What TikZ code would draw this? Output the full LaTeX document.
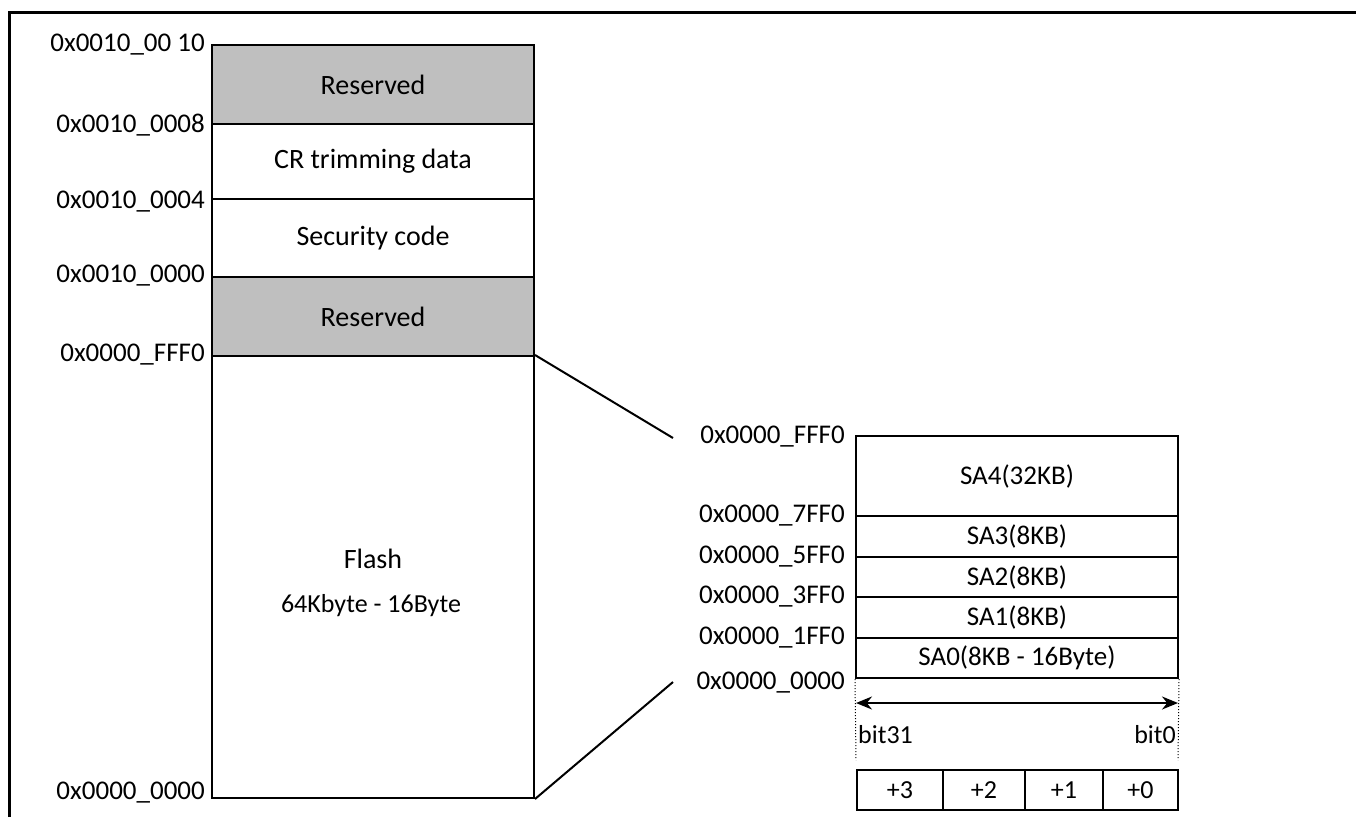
\documentclass[tikz,border=0pt]{standalone}
\usepackage{fontspec}
\setmainfont{Carlito}
\usetikzlibrary{arrows.meta}

\begin{document}
\begin{tikzpicture}[x=1pt,y=-1pt]
	\tikzstyle{cell}=[draw,line width=2pt,minimum width=322pt,inner sep=0pt,font=\fontsize{28}{30}\selectfont]
	\tikzstyle{rsv}=[cell,fill=gray!50]
	\tikzstyle{sector}=[cell,font=\fontsize{27}{30}\selectfont]
	\tikzstyle{addr}=[anchor=east,inner sep=0pt,font=\fontsize{27}{30}\selectfont]
	\tikzstyle{byte}=[draw,line width=2pt,minimum height=40pt,inner sep=0pt,font=\fontsize{26}{28}\selectfont]
	\useasboundingbox (0,0) rectangle (1356,817);
	\draw[line width=3pt] (9,817) -- (9,12) -- (1356,12);
	% whole map
	\node[rsv,minimum height=79pt] (rsvtop) at (373,84.5) {Reserved};
	\node[cell,minimum height=75pt] (crtrim) at (373,161.5) {CR trimming data};
	\node[cell,minimum height=78pt] (seccode) at (373,238) {Security code};
	\node[rsv,minimum height=79pt] (rsvbot) at (373,316.5) {Reserved};
	\node[cell,minimum height=442pt] (flash) at (373,577) {};
	\node[anchor=base,inner sep=0pt,font=\fontsize{28}{30}\selectfont] (flashname) at (373,568) {Flash};
	\node[anchor=base,inner sep=0pt,font=\fontsize{26}{28}\selectfont] (flashsize) at (371,612) {64Kbyte - 16Byte};
	\node[addr] (a5) at (205,45) {0x0010\_00 10};
	\node[addr] (a4) at (205,125) {0x0010\_0008};
	\node[addr] (a3) at (205,202) {0x0010\_0004};
	\node[addr] (a2) at (205,276) {0x0010\_0000};
	\node[addr] (a1) at (205,355) {0x0000\_FFF0};
	\node[addr] (a0) at (205,793) {0x0000\_0000};
	% flash sectors
	\node[sector,minimum height=80pt] (sa4) at (1017,476) {SA4(32KB)};
	\node[sector,minimum height=41pt] (sa3) at (1017,536.5) {SA3(8KB)};
	\node[sector,minimum height=40pt] (sa2) at (1017,577) {SA2(8KB)};
	\node[sector,minimum height=41pt] (sa1) at (1017,617.5) {SA1(8KB)};
	\node[sector,minimum height=40pt] (sa0) at (1017,658) {SA0(8KB - 16Byte)};
	\node[addr] (f5) at (845,437) {0x0000\_FFF0};
	\node[addr] (f4) at (845,516) {0x0000\_7FF0};
	\node[addr] (f3) at (845,557) {0x0000\_5FF0};
	\node[addr] (f2) at (845,597) {0x0000\_3FF0};
	\node[addr] (f1) at (845,638) {0x0000\_1FF0};
	\node[addr] (f0) at (845,683) {0x0000\_0000};
	\coordinate (zoomtop) at (673,438);
	\coordinate (zoombot) at (673,682);
	\draw[line width=2pt] (flash.north east) -- (zoomtop);
	\draw[line width=2pt] (flash.south east) -- (zoombot);
	% bit order
	\coordinate (wl) at (856,760);
	\coordinate (wr) at (1178,760);
	\coordinate (al) at (856,703);
	\coordinate (ar) at (1178,703);
	\draw[dotted,line width=1pt] (sa0.south west) -- (wl);
	\draw[dotted,line width=1pt] (sa0.south east) -- (wr);
	\draw[line width=2pt,{Stealth[length=16pt,width=13pt]}-{Stealth[length=16pt,width=13pt]}] (al) -- (ar);
	\node[anchor=base west,inner sep=1pt,font=\fontsize{26}{28}\selectfont] (bit31) at (857,743) {bit31};
	\node[anchor=base east,inner sep=1pt,font=\fontsize{26}{28}\selectfont] (bit0) at (1177,743) {bit0};
	\node[byte,minimum width=86pt] (b3) at (900,790) {+3};
	\node[byte,minimum width=82pt] (b2) at (984,790) {+2};
	\node[byte,minimum width=78pt] (b1) at (1064,790) {+1};
	\node[byte,minimum width=75pt] (b0) at (1140.5,790) {+0};
\end{tikzpicture}
\end{document}
